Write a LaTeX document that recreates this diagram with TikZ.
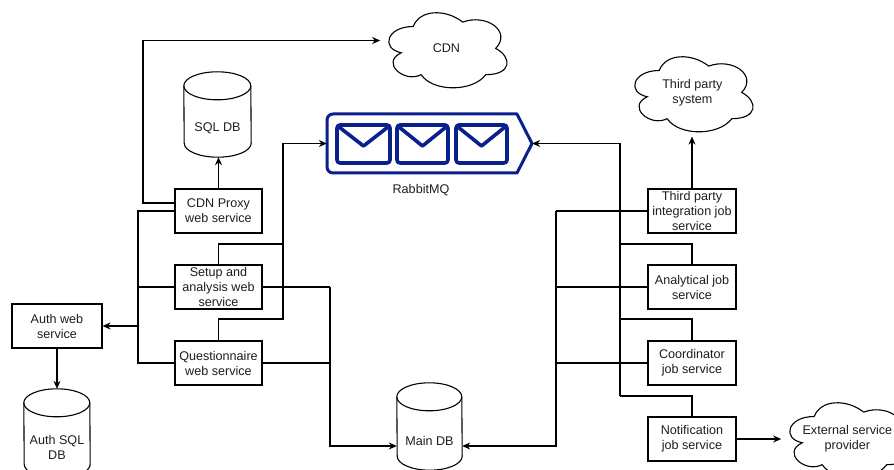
\documentclass[tikz,border=0pt]{standalone}
\usepackage{fontspec}
\setmainfont{Liberation Sans}
\usetikzlibrary{arrows.meta,calc}
\definecolor{txt}{RGB}{30,30,30}
\definecolor{rmqblue}{RGB}{10,32,140}
\tikzset{
  edgeln/.style={draw=black,line width=1.1pt},
  arr/.style={edgeln,-{Stealth[length=8pt,width=7pt]}},
  lbl/.style={text=txt,font=\fontsize{12.6}{15}\selectfont,align=center,inner sep=0pt},
  box/.style={lbl,draw=black,line width=1.1pt,fill=white,minimum width=87pt,minimum height=44pt},
  cell/.style={lbl,minimum width=132pt,minimum height=87.6pt},
  body/.style={lbl},
  envl/.style={draw=rmqblue,line width=3.6pt,rounded corners=3pt,line join=round}
}
\newcommand\mxcloudpath[1]{%
 \begin{scope}[shift={(#1.north west)},x=132pt,y=-87.6pt]
 \draw[edgeln] (0.25,0.25) .. controls (0.05,0.25) and (0,0.5) .. (0.16,0.55)
  .. controls (0,0.66) and (0.18,0.9) .. (0.31,0.8)
  .. controls (0.4,1) and (0.7,1) .. (0.8,0.8)
  .. controls (1,0.8) and (1,0.6) .. (0.875,0.5)
  .. controls (1,0.3) and (0.8,0.1) .. (0.625,0.2)
  .. controls (0.5,0.05) and (0.3,0.05) .. (0.25,0.25) -- cycle;
 \end{scope}}
\newcommand\mydbshape[3]{%
 \draw[edgeln] ($(#1.north west)+(0,#3)$) arc[start angle=180,end angle=0,x radius=#2pt,y radius=#3pt]
   -- ($(#1.south east)+(0,#3)$) arc[start angle=0,end angle=-180,x radius=#2pt,y radius=#3pt] -- cycle;
 \draw[edgeln] ($(#1.north west)+(0,#3)$) arc[start angle=180,end angle=360,x radius=#2pt,y radius=#3pt];
}
\begin{document}
\begin{tikzpicture}[x=1pt,y=1pt]
\useasboundingbox (0,0) rectangle (894,-470);
\clip (0,0) rectangle (894,-470);
\fill[white] (0,0) rectangle (894,-470);

% boxes
\node[box] (proxy) at (218.5,-211) {CDN Proxy\\web service};
\node[box] (setup) at (218.5,-287) {Setup and\\analysis web\\service};
\node[box] (quest) at (218.5,-363) {Questionnaire\\web service};
\node[box,minimum width=90pt] (auth) at (57,-326) {Auth web\\service};
\node[box,minimum width=88pt] (integ) at (692,-211) {Third party\\integration job\\service};
\node[box,minimum width=88pt] (anal) at (692,-287) {Analytical job\\service};
\node[box,minimum width=88pt] (coord) at (692,-363) {Coordinator\\job service};
\node[box,minimum width=88pt] (notif) at (692,-439) {Notification\\job service};

% clouds
\node[cell] (cdn) at (446.4,-48.6) {CDN};
\mxcloudpath{cdn}
\node[cell] (third) at (692.4,-92.6) {Third party\\system};
\mxcloudpath{third}
\node[cell] (ext) at (847.4,-438.6) {External service\\provider};
\mxcloudpath{ext}

% databases
\node[body,minimum width=67pt,minimum height=57pt] (sql) at (217.5,-128.5) {SQL DB};
\mydbshape{sql}{33.5}{14}
\node[body,minimum width=65pt,minimum height=59pt] (main) at (429.5,-440.5) {Main DB};
\mydbshape{main}{32.5}{14}
\node[body,minimum width=66pt,minimum height=61pt] (authdb) at (57,-447.5) {Auth SQL\\DB};
\mydbshape{authdb}{33}{14}

% RabbitMQ
\node[minimum width=205pt,minimum height=59pt,inner sep=0pt] (rmq) at (429.5,-143.5) {};
\draw[draw=rmqblue,line width=3pt,line join=round] (422,-114) [rounded corners=6pt]-- (327,-114) -- (327,-173) -- (422,-173)
   [sharp corners]-- (517,-173) -- (532,-143.5) -- (517,-114) -- cycle;
\foreach \xa/\xb in {337/390,397/448,456/507}{
  \draw[envl] (\xa,-125) rectangle (\xb,-163);
  \draw[draw=rmqblue,line width=3.6pt,line join=round,line cap=round] (\xa+2,-127) -- ({(\xa+\xb)/2},-146) -- (\xb-2,-127);
}
\node[lbl] (rmqlabel) at (421,-190) {RabbitMQ};

% CDN proxy connectors
\coordinate (c1) at (143,-40.5);
\draw[arr] ($(proxy.west)+(0,8)$) -| (c1) -- (c1 -| cdn.west);
\draw[arr] (proxy.north) -- (proxy.north |- sql.south);

% auth branch
\coordinate (a1) at (138,-326);
\draw[edgeln] (proxy.west) -| (a1);
\draw[edgeln] (setup.west) -- (setup.west -| a1);
\draw[edgeln] (quest.west) -| (a1);
\draw[arr] (a1) -- (auth.east);
\draw[arr] (auth.south) -- ($(authdb.north)+(0,28)$);

% to RabbitMQ (left)
\coordinate (r1) at (283,-244);
\coordinate (r2) at (283,-319);
\draw[edgeln] (setup.north) |- (r1);
\draw[edgeln] (quest.north) |- (r2) -- (r1);
\draw[arr] (r1) |- (rmq.west);

% to Main DB (left)
\coordinate (m1) at (330,-287);
\coordinate (m2) at (330,-363);
\coordinate (m3) at (330,-446);
\draw[edgeln] (setup.east) -- (m1);
\draw[edgeln] (quest.east) -- (m2);
\draw[arr] (m1) -- (m3) -- (m3 -| main.west);

% to Main DB (right)
\coordinate (n1) at (556,-211);
\coordinate (n3) at (556,-446);
\draw[edgeln] (integ.west) -- (n1);
\draw[edgeln] (anal.west) -- (anal.west -| n1);
\draw[edgeln] (coord.west) -- (coord.west -| n1);
\draw[arr] (n1) -- (n3) -- (n3 -| main.east);

% to RabbitMQ (right)
\coordinate (q0) at (620,-143.5);
\coordinate (q1) at (620,-244);
\coordinate (q2) at (620,-319);
\coordinate (q3) at (620,-396);
\draw[edgeln] (anal.north) |- (q1);
\draw[edgeln] (coord.north) |- (q2);
\draw[edgeln] (notif.north) |- (q3);
\draw[arr] (q3) -- (q0) -- (rmq.east);

% external
\draw[arr] (integ.north) -- (integ.north |- third.south);
\draw[arr] (notif.east) -- (notif.east -| ext.west);
\end{tikzpicture}
\end{document}
